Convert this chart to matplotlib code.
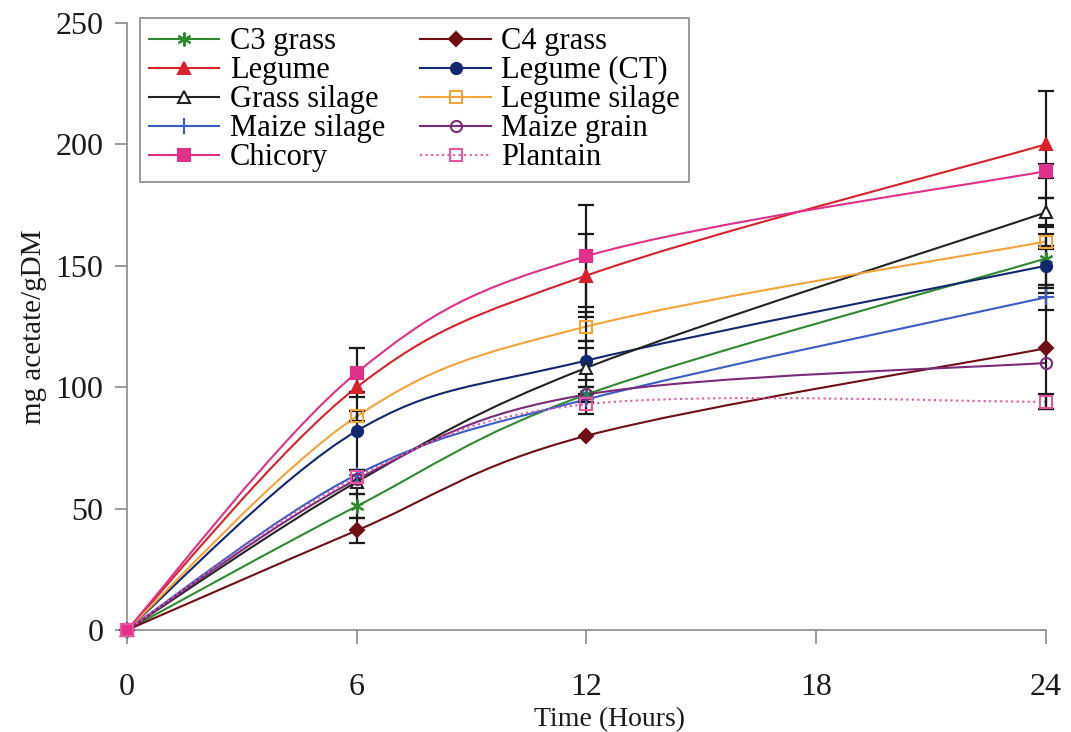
import numpy as np
import matplotlib
matplotlib.use("Agg")
import matplotlib.pyplot as plt
from matplotlib.path import Path
from matplotlib.patches import PathPatch
from matplotlib.lines import Line2D

# ----------------------------------------------------------
# data
# ----------------------------------------------------------
hours = [0, 6, 12, 24]

names = ["C3 grass", "C4 grass", "Legume", "Legume (CT)", "Grass silage",
         "Legume silage", "Maize silage", "Maize grain", "Chicory", "Plantain"]

c3_grass = [0, 51, 97, 153]
c4_grass = [0, 41, 80, 116]
legume = [0, 100, 146, 200]
legume_ct = [0, 82, 111, 150]
grass_silage = [0, 61, 108, 172]
legume_silage = [0, 88, 125, 160]
maize_silage = [0, 64, 95, 137]
maize_grain = [0, 62, 97, 110]
chicory = [0, 106, 154, 189]
plantain = [0, 63, 93, 94]

# error bars (0 = none)
c3_err = [0, 5, 0, 14]
c4_err = [0, 5, 0, 25]
legume_err = [0, 0, 17, 22]
legume_ct_err = [0, 16, 8, 8]
grass_silage_err = [0, 5, 8, 6]
legume_silage_err = [0, 2, 6, 3]
maize_silage_err = [0, 0, 0, 5]
maize_grain_err = [0, 0, 3, 0]
chicory_err = [0, 10, 21, 3]
plantain_err = [0, 0, 4, 3]

values = [c3_grass, c4_grass, legume, legume_ct, grass_silage,
          legume_silage, maize_silage, maize_grain, chicory, plantain]
errors = [c3_err, c4_err, legume_err, legume_ct_err, grass_silage_err,
          legume_silage_err, maize_silage_err, maize_grain_err, chicory_err, plantain_err]

# ----------------------------------------------------------
# styles
# ----------------------------------------------------------
styles = [
    dict(color="#2f8a2f", marker=(6, 2, 0), mfc="#2f8a2f", ls="-"),
    dict(color="#6e0f14", marker="D", mfc="#6e0f14", ls="-"),
    dict(color="#d8212a", marker="^", mfc="#d8212a", ls="-"),
    dict(color="#12286e", marker="o", mfc="#12286e", ls="-"),
    dict(color="#222222", marker="^", mfc="white", ls="-"),
    dict(color="#f2a33a", marker="s", mfc="none", ls="-"),
    dict(color="#3a5cc6", marker="+", mfc="#3a5cc6", ls="-"),
    dict(color="#7a2a78", marker="o", mfc="none", ls="-"),
    dict(color="#e0308a", marker="s", mfc="#e0308a", ls="-"),
    dict(color="#e8559e", marker="s", mfc="none", ls=":"),
]

plt.rcParams["font.family"] = ["Liberation Serif", "DejaVu Serif"]


def smooth_path(x, y):
    # Excel-like smoothed line: cubic bezier through the points
    p = np.column_stack([x, y]).astype(float)
    n = len(p)
    verts = [p[0]]
    codes = [Path.MOVETO]
    for i in range(n - 1):
        p0 = p[i - 1] if i > 0 else p[i]
        p3 = p[i + 2] if i + 2 < n else p[i + 1]
        c1 = p[i] + (p[i + 1] - p0) / 6.0
        c2 = p[i + 1] - (p3 - p[i]) / 6.0
        verts += [c1, c2, p[i + 1]]
        codes += [Path.CURVE4] * 3
    return Path(verts, codes)


fig = plt.figure(figsize=(10.71, 7.32), dpi=100)
ax = fig.add_axes([0.1186, 0.1393, 0.858, 0.8293])

handles = {}
for name, vals, err, st in zip(names, values, errors, styles):
    ax.add_patch(PathPatch(smooth_path(hours, vals), fill=False,
                           edgecolor=st["color"], lw=1.5,
                           linestyle=st["ls"], zorder=2))
    ms = 8
    if st["marker"] == "+":
        ms = 11
    if st["marker"] == "D":
        ms = 7
    if st["marker"] == (6, 2, 0):
        ms = 10
    ax.plot(hours, vals, linestyle="none", marker=st["marker"], ms=ms,
            mfc=st["mfc"], mec=st["color"], mew=1.5, zorder=4, clip_on=False)
    e = np.array(err, dtype=float)
    idx = e > 0
    ax.errorbar(np.array(hours)[idx], np.array(vals)[idx], yerr=e[idx],
                fmt="none", ecolor="#1a1a1a", elinewidth=1.6, capsize=5.5,
                capthick=1.6, zorder=3, clip_on=False)
    handles[name] = Line2D([], [], color=st["color"], lw=1.5, ls=st["ls"],
                           marker=st["marker"], ms=ms, mfc=st["mfc"],
                           mec=st["color"], mew=1.5)

ax.set_xlim(0, 24)
ax.set_ylim(0, 250)
ax.set_xticks([0, 6, 12, 18, 24])
ax.set_yticks([0, 50, 100, 150, 200, 250])

for s in ["top", "right"]:
    ax.spines[s].set_visible(False)
for s in ["left", "bottom"]:
    ax.spines[s].set_color("#8a8a8a")
    ax.spines[s].set_linewidth(1.2)

ax.tick_params(axis="x", direction="out", length=10, width=1.2,
               color="#8a8a8a", labelsize=23, pad=21, labelcolor="#1a1a1a")
ax.tick_params(axis="y", direction="out", length=9, width=1.2,
               color="#8a8a8a", labelsize=23, pad=8, labelcolor="#1a1a1a")

ax.set_xlabel("Time (Hours)", fontsize=20, color="#1a1a1a")
ax.xaxis.set_label_coords(0.525, -0.127)
ax.set_ylabel("mg acetate/gDM", fontsize=21, labelpad=6, color="#1a1a1a")

order = ["C3 grass", "Legume", "Grass silage", "Maize silage", "Chicory",
         "C4 grass", "Legume (CT)", "Legume silage", "Maize grain", "Plantain"]
leg = ax.legend([handles[k] for k in order], order, ncol=2,
                loc="upper left", bbox_to_anchor=(0.014, 1.008),
                fontsize=22, frameon=True, fancybox=False,
                handlelength=2.3, handletextpad=0.35, columnspacing=1.15,
                labelspacing=0.0, borderpad=0.3, borderaxespad=0.0)
leg.get_frame().set_edgecolor("#777777")
leg.get_frame().set_linewidth(1.3)
leg.set_zorder(5)

fig.savefig("out.png", dpi=100)
